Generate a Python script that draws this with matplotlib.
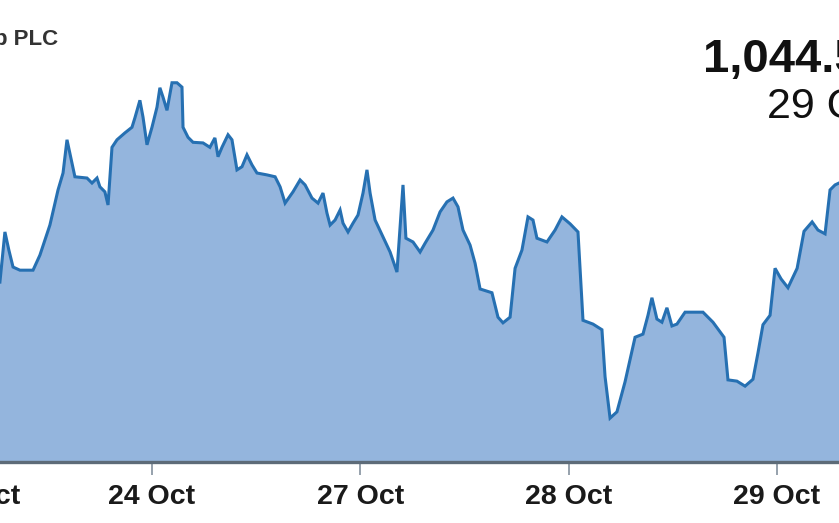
import matplotlib
matplotlib.use("Agg")
import matplotlib.pyplot as plt

# ---- data (x = trading-day position: 24 Oct = 1, 27 Oct = 2, 28 Oct = 3, 29 Oct = 4) ----
day_pos = [0.270, 0.294, 0.313, 0.333, 0.366, 0.429, 0.462, 0.510, 0.549, 0.573,
           0.592, 0.616, 0.630, 0.688, 0.712, 0.736, 0.750, 0.774, 0.789, 0.808,
           0.832, 0.870, 0.904, 0.918, 0.942, 0.957, 0.976, 1.000, 1.024, 1.038,
           1.053, 1.072, 1.096, 1.120, 1.144, 1.149, 1.173, 1.197, 1.245, 1.278,
           1.302, 1.317, 1.336, 1.365, 1.384, 1.408, 1.432, 1.456, 1.480, 1.504,
           1.552, 1.591, 1.615, 1.639, 1.677, 1.711, 1.735, 1.768, 1.797, 1.821,
           1.840, 1.855, 1.879, 1.903, 1.917, 1.941, 1.965, 1.989, 2.013, 2.032,
           2.047, 2.071, 2.109, 2.143, 2.176, 2.191, 2.205, 2.219, 2.253, 2.287,
           2.311, 2.349, 2.383, 2.416, 2.445, 2.469, 2.493, 2.527, 2.551, 2.575,
           2.632, 2.661, 2.685, 2.719, 2.743, 2.776, 2.805, 2.829, 2.848, 2.896,
           2.935, 2.968, 3.007, 3.045, 3.069, 3.117, 3.160, 3.175, 3.199, 3.232,
           3.271, 3.319, 3.357, 3.381, 3.400, 3.424, 3.448, 3.472, 3.496, 3.520,
           3.559, 3.645, 3.693, 3.746, 3.765, 3.808, 3.847, 3.885, 3.909, 3.933,
           3.967, 3.991, 4.020, 4.053, 4.097, 4.130, 4.169, 4.197, 4.231, 4.255,
           4.279, 4.298]
price = [1028.7, 1036.7, 1033.8, 1031.1, 1030.6, 1030.6, 1033.0, 1037.8, 1043.4, 1046.1,
         1051.4, 1047.7, 1045.5, 1045.3, 1044.5, 1045.3, 1043.9, 1043.1, 1041.0, 1050.2,
         1051.4, 1052.5, 1053.4, 1054.9, 1057.7, 1055.0, 1050.6, 1053.4, 1056.6, 1059.7,
         1058.2, 1056.1, 1060.5, 1060.5, 1059.8, 1053.4, 1051.8, 1051.0, 1050.9, 1050.2,
         1051.7, 1048.7, 1050.2, 1052.2, 1051.4, 1046.6, 1047.1, 1049.0, 1047.4, 1046.1,
         1045.8, 1045.5, 1043.9, 1041.3, 1043.1, 1045.0, 1044.2, 1042.1, 1041.3, 1042.9,
         1039.7, 1037.8, 1038.6, 1040.2, 1038.1, 1036.7, 1038.1, 1039.4, 1042.9, 1046.6,
         1042.9, 1038.6, 1035.9, 1033.5, 1030.3, 1037.5, 1044.2, 1035.7, 1035.1, 1033.5,
         1034.9, 1037.0, 1039.9, 1041.5, 1042.1, 1040.7, 1037.0, 1034.6, 1031.7, 1027.6,
         1027.0, 1023.1, 1022.2, 1023.1, 1030.9, 1033.8, 1039.1, 1038.6, 1035.7, 1035.1,
         1037.0, 1039.1, 1038.0, 1036.7, 1022.6, 1022.0, 1021.1, 1013.6, 1007.0, 1008.0,
         1012.8, 1019.9, 1020.4, 1023.4, 1026.2, 1022.8, 1022.3, 1024.6, 1021.7, 1022.0,
         1023.9, 1023.9, 1022.3, 1019.9, 1013.1, 1012.9, 1012.1, 1013.2, 1017.4, 1021.9,
         1023.4, 1030.9, 1029.2, 1027.8, 1030.9, 1036.8, 1038.3, 1037.0, 1036.4, 1043.4,
         1044.2, 1044.5]
tick_pos = [0.16, 1, 2, 3, 4]
tick_labels = ["23 Oct", "24 Oct", "27 Oct", "28 Oct", "29 Oct"]
title_text = "Group PLC"
last_value = "1,044.5"
last_date = "29 Oct"

font = "Liberation Sans"

W, H = 839, 523
fig = plt.figure(figsize=(W / 100, H / 100), dpi=100)
# axes starts slightly left of the canvas so the first date label is cut like the reference
left_px = -23
ax = fig.add_axes([left_px / W, (H - 462) / H, (W - left_px) / W, 462 / H])

fill_c = "#94b5dd"
line_c = "#2670b2"
base = 1000
ax.fill_between(day_pos, price, base, color=fill_c, lw=0, zorder=1)
ax.plot(day_pos, price, color=line_c, lw=2.2, zorder=2, solid_joinstyle="miter")

for s in ["top", "left", "right"]:
    ax.spines[s].set_visible(False)
ax.spines["bottom"].set_color("#5d6b78")
ax.spines["bottom"].set_linewidth(2.4)
ax.set_yticks([])
ax.set_xticks(tick_pos)
ax.set_xticklabels(tick_labels, fontfamily=font, fontweight="bold",
                   fontsize=20.5, color="#1a1a1a")
ax.tick_params(axis="x", direction="out", length=9, width=1.3,
               color="#8d9aa6", pad=7)
ax.set_xlim(0.16, 4.298)
ax.set_ylim(base, 1073.7)

fig.text(58 / W, 1 - 45 / H, title_text, ha="right", va="baseline",
         fontfamily=font, fontweight="bold", fontsize=16, color="#333333")
fig.text(703 / W, 1 - 72 / H, last_value, ha="left", va="baseline",
         fontfamily=font, fontweight="bold", fontsize=34, color="#111111")
fig.text(767 / W, 1 - 118 / H, last_date, ha="left", va="baseline",
         fontfamily=font, fontweight="normal", fontsize=31, color="#111111")

fig.savefig("out.png", dpi=100, facecolor="white")
